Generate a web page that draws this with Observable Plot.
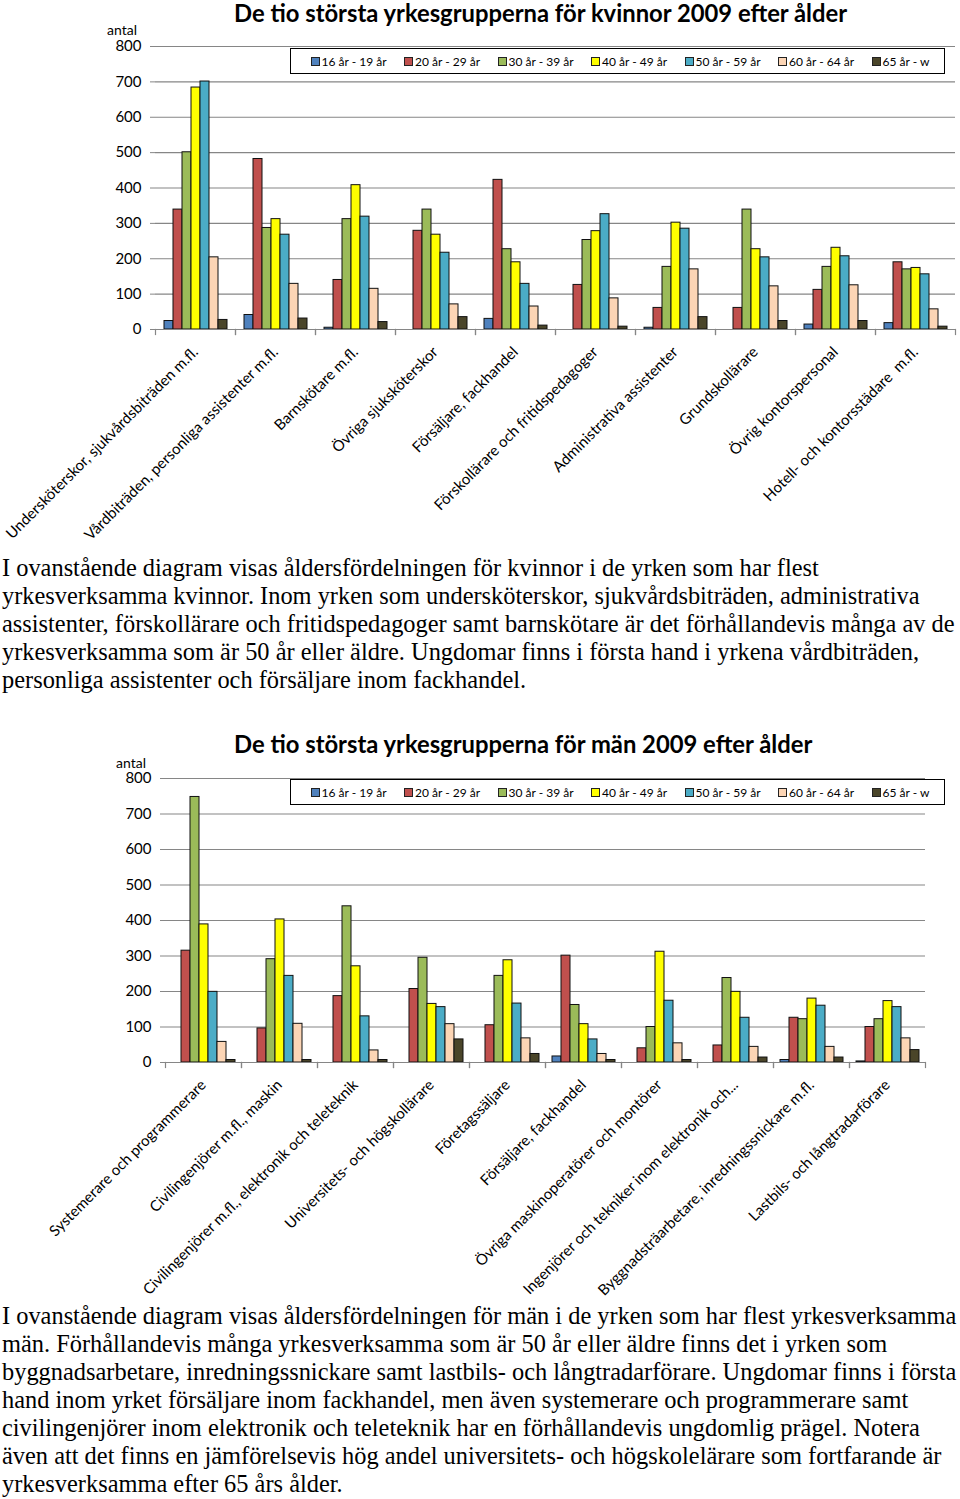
<!DOCTYPE html>
<html><head><meta charset="utf-8">
<script src="https://cdn.jsdelivr.net/npm/d3@7"></script>
<script src="https://cdn.jsdelivr.net/npm/@observablehq/plot@0.6"></script>
<style>
html,body{margin:0;padding:0;background:#fff;}
body{width:960px;height:1499px;position:relative;overflow:hidden;}
.block{position:absolute;left:0;width:960px;}
.title{position:absolute;font-family:Lato,"Open Sans",sans-serif;font-weight:bold;font-size:23.8px;white-space:nowrap;color:#000;line-height:1;}
.antal{position:absolute;font-family:Lato,sans-serif;font-size:14px;color:#000;line-height:1;}
.legend{position:absolute;left:290px;width:655px;height:26px;border:1.6px solid #000;background:#fff;display:flex;align-items:center;padding-left:19.5px;box-sizing:border-box;font-family:Lato,sans-serif;font-size:12px;color:#000;overflow:hidden;}
.legend .item{flex:none;width:93.5px;display:flex;align-items:center;white-space:nowrap;}
.legend .sw{width:7px;height:7px;border:1px solid #222;margin-right:2px;flex:none;}
.para{position:absolute;left:2px;font-family:"Liberation Serif","Times New Roman",serif;font-size:24.4px;line-height:28px;color:#000;white-space:nowrap;}
.plot svg{display:block;}
</style></head>
<body>
<div class="block" id="chart1" style="top:0;height:550px;"></div>
<div class="para" id="para1" style="top:554px;"></div>
<div class="block" id="chart2" style="top:730px;height:575px;"></div>
<div class="para" id="para2" style="top:1302px;"></div>
<script>
const ageGroups = ["16 år - 19 år", "20 år - 29 år", "30 år - 39 år", "40 år - 49 år", "50 år - 59 år", "60 år - 64 år", "65 år - w"];
const ageColors = ["#4F81BD", "#C0504D", "#9BBB59", "#FFFF00", "#4BACC6", "#FCD5B5", "#4A4529"];
const yTicks = [0, 100, 200, 300, 400, 500, 600, 700, 800];

const womenTitle = "De tio största yrkesgrupperna för kvinnor 2009 efter ålder";
const womenCategories = ["Undersköterskor, sjukvårdsbiträden m.fl.", "Vårdbiträden, personliga assistenter m.fl.", "Barnskötare m.fl.", "Övriga sjuksköterskor", "Försäljare, fackhandel", "Förskollärare och fritidspedagoger", "Administrativa assistenter", "Grundskollärare", "Övrig kontorspersonal", "Hotell- och kontorsstädare  m.fl."];
const women16_19 = [24, 41, 5, 0, 30, 0, 5, 0, 14, 18];
const women20_29 = [339, 482, 140, 279, 423, 126, 61, 61, 112, 190];
const women30_39 = [501, 287, 312, 339, 227, 253, 177, 339, 177, 170];
const women40_49 = [684, 312, 408, 268, 190, 278, 302, 227, 231, 174];
const women50_59 = [701, 268, 319, 217, 129, 326, 285, 204, 207, 156];
const women60_64 = [204, 129, 115, 71, 65, 88, 170, 122, 125, 57];
const women65_w = [27, 31, 21, 35, 11, 8, 35, 24, 24, 8];

const menTitle = "De tio största yrkesgrupperna för män 2009 efter ålder";
const menCategories = ["Systemerare och programmerare", "Civilingenjörer m.fl., maskin", "Civilingenjörer m.fl., elektronik och teleteknik", "Universitets- och högskollärare", "Företagssäljare", "Försäljare, fackhandel", "Övriga maskinoperatörer och montörer", "Ingenjörer och tekniker inom elektronik och...", "Byggnadsträarbetare, inredningssnickare m.fl.", "Lastbils- och långtradarförare"];
const men16_19 = [0, 0, 0, 0, 0, 17, 0, 0, 7, 3];
const men20_29 = [315, 96, 187, 207, 105, 301, 40, 48, 126, 100];
const men30_39 = [748, 291, 440, 295, 244, 162, 100, 238, 122, 122];
const men40_49 = [389, 403, 271, 165, 288, 108, 312, 199, 180, 173];
const men50_59 = [199, 244, 130, 156, 166, 65, 174, 126, 160, 156];
const men60_64 = [58, 109, 34, 108, 68, 24, 54, 44, 44, 68];
const men65_w = [7, 7, 7, 65, 24, 7, 7, 14, 14, 35];

const para1Lines = [
  "I ovanstående diagram visas åldersfördelningen för kvinnor i de yrken som har flest",
  "yrkesverksamma kvinnor. Inom yrken som undersköterskor, sjukvårdsbiträden, administrativa",
  "assistenter, förskollärare och fritidspedagoger samt barnskötare är det förhållandevis många av de",
  "yrkesverksamma som är 50 år eller äldre. Ungdomar finns i första hand i yrkena vårdbiträden,",
  "personliga assistenter och försäljare inom fackhandel."
];
const para2Lines = [
  "I ovanstående diagram visas åldersfördelningen för män i de yrken som har flest yrkesverksamma",
  "män. Förhållandevis många yrkesverksamma som är 50 år eller äldre finns det i yrken som",
  "byggnadsarbetare, inredningssnickare samt lastbils- och långtradarförare. Ungdomar finns i första",
  "hand inom yrket försäljare inom fackhandel, men även systemerare och programmerare samt",
  "civilingenjörer inom elektronik och teleteknik har en förhållandevis ungdomlig prägel. Notera",
  "även att det finns en jämförelsevis hög andel universitets- och högskolelärare som fortfarande är",
  "yrkesverksamma efter 65 års ålder."
];

function makeChart(container, cfg) {
  const rows = [];
  cfg.categories.forEach((c, i) => ageGroups.forEach((a, j) => rows.push({category: c, age: a, value: cfg.series[j][i]})));
  const plotH = cfg.height - cfg.marginTop - cfg.marginBottom;
  const grey = "#868686";
  const chart = Plot.plot({
    width: 960, height: cfg.height,
    marginLeft: cfg.marginLeft, marginRight: cfg.marginRight, marginTop: cfg.marginTop, marginBottom: cfg.marginBottom,
    style: {fontFamily: "Lato, 'Open Sans', sans-serif", fontSize: "14px", color: "#000", background: "transparent", overflow: "visible"},
    fx: {domain: cfg.categories, padding: 0, axis: null, label: null},
    x: {domain: ageGroups, paddingInner: 0, paddingOuter: 0.7, axis: null},
    y: {domain: [0, 800], axis: null},
    color: {domain: ageGroups, range: ageColors},
    marks: [
      Plot.gridY(yTicks, {stroke: grey, strokeOpacity: 1, strokeWidth: 1.2}),
      Plot.frame({anchor: "left", insetTop: plotH, insetBottom: -5, stroke: grey, strokeWidth: 1.2}),
      Plot.frame({anchor: "right", insetTop: plotH, insetBottom: -5, stroke: grey, strokeWidth: 1.2}),
      Plot.barY(rows, {fx: "category", x: "age", y: "value", fill: "age", stroke: "#111", strokeWidth: 1}),
      Plot.ruleY([0], {stroke: grey, strokeWidth: 1.2}),
      Plot.axisY(yTicks, {tickSize: 5, tickPadding: 9, stroke: grey, strokeOpacity: 1, line: true, label: null, fontSize: 15}),
      Plot.axisFx({anchor: "bottom", tickRotate: -45, tickSize: 0, tickPadding: 20, label: null, fontSize: 15})
    ]
  });
  const wrap = document.createElement("div");
  wrap.className = "plot";
  wrap.style.position = "absolute"; wrap.style.left = "0"; wrap.style.top = "0";
  wrap.appendChild(chart);
  container.appendChild(wrap);

  const t = document.createElement("div");
  t.className = "title"; t.textContent = cfg.title;
  t.style.left = cfg.titleLeft + "px"; t.style.top = cfg.titleTop + "px";
  container.appendChild(t);

  const an = document.createElement("div");
  an.className = "antal"; an.textContent = "antal";
  an.style.left = cfg.antalLeft + "px"; an.style.top = cfg.antalTop + "px";
  container.appendChild(an);

  const lg = document.createElement("div");
  lg.className = "legend"; lg.style.top = cfg.legendTop + "px";
  ageGroups.forEach((a, j) => {
    const it = document.createElement("div"); it.className = "item";
    const sw = document.createElement("span"); sw.className = "sw"; sw.style.background = ageColors[j];
    const tx = document.createElement("span"); tx.textContent = a;
    it.appendChild(sw); it.appendChild(tx); lg.appendChild(it);
  });
  container.appendChild(lg);
}

makeChart(document.getElementById("chart1"), {
  title: womenTitle, categories: womenCategories,
  series: [women16_19, women20_29, women30_39, women40_49, women50_59, women60_64, women65_w],
  height: 550, marginTop: 46, marginBottom: 221, marginLeft: 153, marginRight: 3,
  titleLeft: 234, titleTop: 2, antalLeft: 107, antalTop: 23, legendTop: 48
});
makeChart(document.getElementById("chart2"), {
  title: menTitle, categories: menCategories,
  series: [men16_19, men20_29, men30_39, men40_49, men50_59, men60_64, men65_w],
  height: 575, marginTop: 48, marginBottom: 243, marginLeft: 162, marginRight: 33,
  titleLeft: 234, titleTop: 3, antalLeft: 116, antalTop: 26, legendTop: 49
});

function fillPara(el, lines) {
  lines.forEach(l => { const d = document.createElement("div"); d.textContent = l; el.appendChild(d); });
}
fillPara(document.getElementById("para1"), para1Lines);
fillPara(document.getElementById("para2"), para2Lines);
</script>
</body></html>
